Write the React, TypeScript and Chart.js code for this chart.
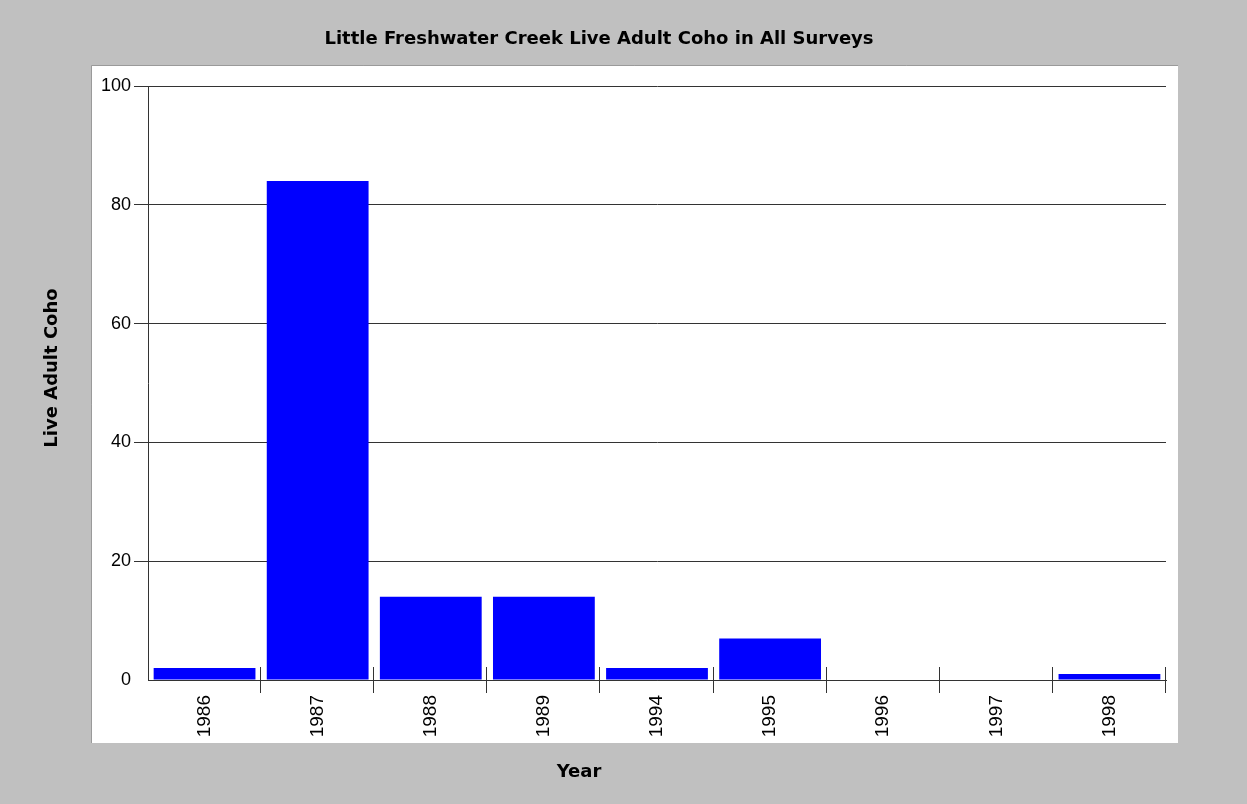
import { useEffect, useRef } from 'react';
import { Chart, registerables } from 'chart.js';

Chart.register(...registerables);

// ---- data ----
const YEARS = ['1986', '1987', '1988', '1989', '1994', '1995', '1996', '1997', '1998'];
const LIVE_ADULT_COHO = [2, 84, 14, 14, 2, 7, 0, 0, 1];
const Y_MIN = 0;
const Y_MAX = 100;
const Y_STEP = 20;
const CHART_TITLE = 'Little Freshwater Creek Live Adult Coho in All Surveys';
const X_TITLE = 'Year';
const Y_TITLE = 'Live Adult Coho';

// ---- style ----
const W = 1247;
const H = 804;
const BG = '#c0c0c0';
const LINE = '#333333';
const BAR = '#0000ff';
const Y_TICK_FONT = { family: "'Liberation Sans', Arial, sans-serif", size: 18 };
const X_TICK_FONT = { family: "'Liberation Sans', Arial, sans-serif", size: 19 };
const TITLE_FONT = "bold 18px 'DejaVu Sans', sans-serif";

export default function App() {
  const ref = useRef<HTMLCanvasElement>(null);

  useEffect(() => {
    const canvas = ref.current;
    if (!canvas) return;

    const framePlugin = {
      id: 'frame',
      beforeDraw(chart: any) {
        const ctx = chart.ctx as CanvasRenderingContext2D;
        ctx.save();
        ctx.fillStyle = BG;
        ctx.fillRect(0, 0, W, H);
        ctx.fillStyle = '#ffffff';
        ctx.fillRect(92, 66, 1086, 677);
        ctx.strokeStyle = '#9a9a9a';
        ctx.lineWidth = 1;
        ctx.beginPath();
        ctx.moveTo(91.5, 743);
        ctx.lineTo(91.5, 65.5);
        ctx.lineTo(1178, 65.5);
        ctx.stroke();
        ctx.restore();
      },
      afterDraw(chart: any) {
        const ctx = chart.ctx as CanvasRenderingContext2D;
        const { chartArea, scales } = chart;
        const x = scales.x;
        const n = chart.data.labels.length;
        const half = (x.getPixelForValue(1) - x.getPixelForValue(0)) / 2;
        ctx.save();
        ctx.strokeStyle = LINE;
        ctx.lineWidth = 1;
        ctx.beginPath();
        for (let i = 0; i < n; i++) {
          const px = Math.round(x.getPixelForValue(i) + half) - 0.5;
          ctx.moveTo(px, chartArea.bottom - 13);
          ctx.lineTo(px, chartArea.bottom + 13);
        }
        ctx.stroke();

        ctx.fillStyle = '#000000';
        ctx.font = TITLE_FONT;
        ctx.textAlign = 'center';
        ctx.textBaseline = 'alphabetic';
        ctx.fillText(CHART_TITLE, 599, 44);
        ctx.fillText(X_TITLE, 579, 777);
        ctx.translate(57, 368);
        ctx.rotate(-Math.PI / 2);
        ctx.fillText(Y_TITLE, 0, 0);
        ctx.restore();
      },
    };

    const chart = new Chart(canvas, {
      type: 'bar',
      data: {
        labels: YEARS,
        datasets: [
          {
            label: Y_TITLE,
            data: LIVE_ADULT_COHO,
            backgroundColor: BAR,
            borderWidth: 0,
            barPercentage: 0.9,
            categoryPercentage: 1,
          },
        ],
      },
      options: {
        responsive: false,
        animation: false,
        devicePixelRatio: 1,
        events: [],
        layout: { padding: { top: 86, right: 81, bottom: 0, left: 0 } },
        plugins: {
          legend: { display: false },
          title: { display: false },
          tooltip: { enabled: false },
        },
        scales: {
          x: {
            grid: { display: false, drawTicks: true, tickLength: 13 },
            border: { display: true, color: LINE, width: 1 },
            ticks: {
              minRotation: 90,
              maxRotation: 90,
              autoSkip: false,
              padding: 2,
              color: '#000000',
              font: X_TICK_FONT,
            },
            afterFit(s: any) {
              s.height = 124;
            },
          },
          y: {
            min: Y_MIN,
            max: Y_MAX,
            ticks: { stepSize: Y_STEP, padding: 3, color: '#000000', font: Y_TICK_FONT },
            grid: {
              color: LINE,
              tickLength: 14,
              tickColor: (c: any) => (c.tick && c.tick.value === 0 ? 'rgba(0,0,0,0)' : LINE),
            },
            border: { color: LINE, width: 1 },
            afterFit(s: any) {
              s.width = 148;
            },
          },
        },
      },
      plugins: [framePlugin],
    } as any);

    return () => chart.destroy();
  }, []);

  return (
    <div style={{ position: 'absolute', left: 0, top: 0, width: W, height: H, background: BG }}>
      <canvas ref={ref} width={W} height={H} style={{ display: 'block', width: W, height: H }} />
    </div>
  );
}
